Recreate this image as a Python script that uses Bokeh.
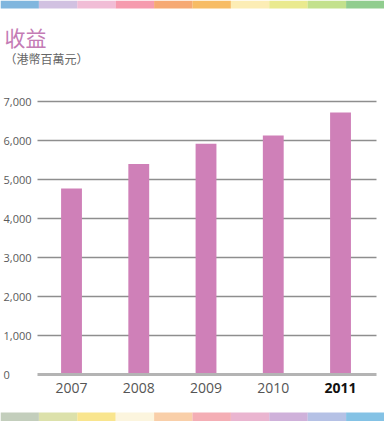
from bokeh.plotting import figure
from bokeh.models import Range1d, FixedTicker, Grid, Label, ColumnDataSource, BoxAnnotation
from bokeh.embed import file_html
from bokeh.resources import INLINE
from bokeh.core.properties import value

years = ["2007", "2008", "2009", "2010", "2011"]
revenue = [4770, 5400, 5920, 6130, 6720]
y_ticks = [0, 1000, 2000, 3000, 4000, 5000, 6000, 7000]
y_tick_labels = ["0", "1,000", "2,000", "3,000", "4,000", "5,000", "6,000", "7,000"]
title_text = "收益"
subtitle_text = "（港幣百萬元）"

BAR = "#cf80b8"
W, H = 384, 421

xs = list(range(len(years)))

p = figure(width=W, height=H, output_backend="svg", toolbar_location=None,
           x_range=Range1d(-1.056, 4.654), y_range=Range1d(-1205, 9590), min_border=0)
p.xaxis.visible = False
p.yaxis.visible = False
p.xgrid.visible = False
p.ygrid.visible = False
p.outline_line_color = None
p.background_fill_color = "white"
p.border_fill_color = "white"

grid = Grid(dimension=1, ticker=FixedTicker(ticks=y_ticks[1:]), cross_bounds=(-0.506, 4.535),
            grid_line_color="#8e8e8e", grid_line_width=1.4)
p.add_layout(grid)

p.vbar(x=xs, top=revenue, width=0.31, color=BAR, line_color=None)

zero = Grid(dimension=1, ticker=FixedTicker(ticks=[0]), cross_bounds=(-0.506, 4.535),
            grid_line_color="#b4b4b4", grid_line_width=3, level="overlay")
p.add_layout(zero)

colors = ["#555555"] * (len(years) - 1) + ["#111111"]
styles = ["normal"] * (len(years) - 1) + ["bold"]
src = ColumnDataSource(dict(x=xs, y=[-345] * len(years), t=years, c=colors, s=styles))
p.text(x="x", y="y", text="t", source=src, text_color="c", text_font_style="s",
       text_align="center", text_baseline="middle", text_font_size="14px",
       text_font=value("Open Sans"))

for v, lab in zip(y_ticks, y_tick_labels):
    p.add_layout(Label(x=3, y=v, x_units="screen", y_units="data", text=lab,
                       text_align="left", text_baseline="middle", text_font_size="11px",
                       text_color="#5a5a5a", text_font="Open Sans"))

p.add_layout(Label(x=4, y=385, x_units="screen", y_units="screen", text=title_text,
                   text_align="left", text_baseline="middle", text_font_size="21px",
                   text_color="#c47bb5", text_font="Noto Sans CJK TC"))
p.add_layout(Label(x=4, y=363, x_units="screen", y_units="screen", text=subtitle_text,
                   text_align="left", text_baseline="middle", text_font_size="12px",
                   text_color="#666666", text_font="Noto Sans CJK TC"))

# decorative colour bands (page header / footer)
top_band = ["#6aa9d8", "#c9b6dc", "#eeb1cf", "#f48aa0", "#f59a5a", "#f6b04a", "#fbeaa8", "#e6e67a", "#b9dc78", "#7cc47a"]
bot_band = ["#b9c5b0", "#d6dc9c", "#f8e07a", "#fbf3d8", "#f8c79a", "#f2a0a8", "#e6a8c8", "#c7a3d3", "#a8b6e0", "#6fb7e0"]
seg = W / len(top_band)
for i, c in enumerate(top_band):
    p.add_layout(BoxAnnotation(left=i * seg, right=(i + 1) * seg, bottom=H - 8, top=H,
                               left_units="screen", right_units="screen",
                               bottom_units="screen", top_units="screen",
                               fill_color=c, fill_alpha=0.85, line_color=None))
for i, c in enumerate(bot_band):
    p.add_layout(BoxAnnotation(left=i * seg, right=(i + 1) * seg, bottom=0, top=9,
                               left_units="screen", right_units="screen",
                               bottom_units="screen", top_units="screen",
                               fill_color=c, fill_alpha=0.85, line_color=None))

open("out.html", "w").write(file_html(p, INLINE))
